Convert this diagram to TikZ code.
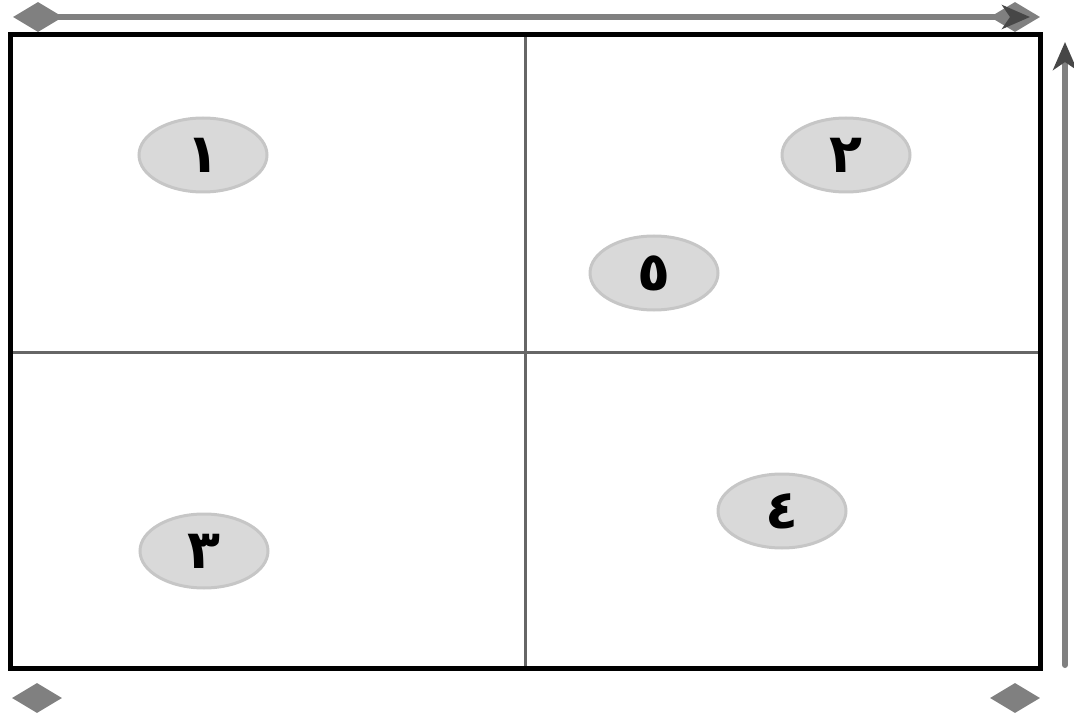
\documentclass[tikz,border=0pt]{standalone}
\usepackage{fontspec}
\newfontfamily\arabicfont[Script=Arabic]{DejaVu Sans}
\usetikzlibrary{shapes.geometric,arrows.meta,positioning}
\definecolor{gridgray}{HTML}{666666}
\definecolor{marker}{HTML}{808080}
\definecolor{tipgray}{HTML}{474747}
\definecolor{bubble}{HTML}{D9D9D9}
\definecolor{bubbleline}{HTML}{C6C6C6}
\begin{document}
\begin{tikzpicture}[x=1pt, y=-1pt,
  zone/.style={ellipse, draw=bubbleline, line width=3pt, fill=bubble, minimum width=128pt, minimum height=74pt, inner sep=0pt, font=\arabicfont\bfseries\fontsize{54}{56}\selectfont},
  mark diamond/.style={diamond, fill=marker, minimum width=50pt, minimum height=30pt, inner sep=0pt, aspect=1.7},
  axis/.style={draw=marker, line width=6pt, -{Stealth[length=28pt, width=24pt, inset=8pt, color=tipgray]}},
  divider/.style={draw=gridgray, line width=3pt}]
\useasboundingbox (0,0) rectangle (1074,714);
% corner markers
\node[mark diamond] (tl) at (38,17) {};
\node[mark diamond] (tr) at (1015,17) {};
\node[mark diamond] (bl) at (37,698) {};
\node[mark diamond] (br) at (1015,698) {};
% frame and quadrants
\coordinate (frameNW) at (10,35);
\coordinate (frameSE) at (1040,668);
\draw[divider] (525,35) -- (525,668);
\draw[divider] (10,352) -- (1040,352);
\draw[line width=5pt] (frameNW) rectangle (frameSE);
% axes
\draw[axis] (tl.center) -- ([xshift=15pt]tr.center);
\coordinate (upS) at (1065,665);
\coordinate (upN) at (1065,42);
\draw[axis, line cap=round] (upS) -- (upN);
% zones
\node[zone] (z1) at (203,155) {١};
\node[zone] (z2) at (846,155) {٢};
\node[zone] (z5) at (654,273) {٥};
\node[zone] (z3) at (204,551) {٣};
\node[zone] (z4) at (782,511) {٤};
\end{tikzpicture}
\end{document}
